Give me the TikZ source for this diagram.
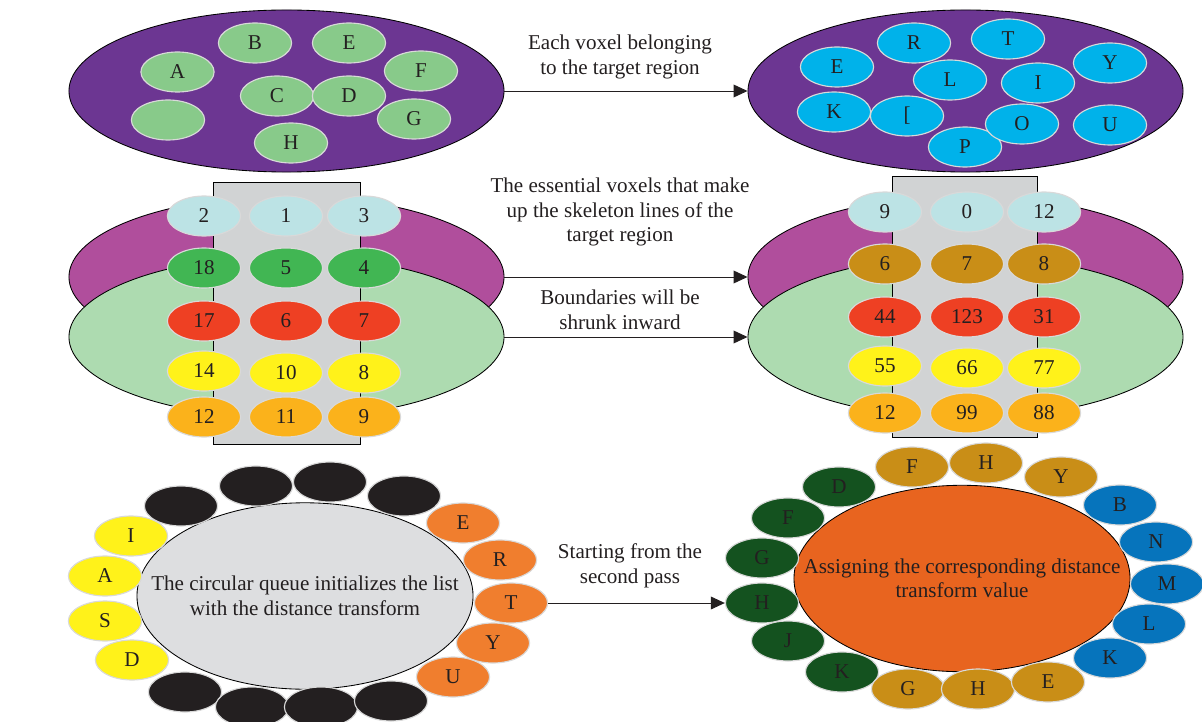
\documentclass[tikz,border=0pt]{standalone}
\usepackage{fontspec}
\setmainfont{Liberation Serif}
\usetikzlibrary{arrows.meta,shapes.geometric}
\definecolor{inkC}{HTML}{231F20}
\definecolor{regionC}{HTML}{6C3692}
\definecolor{leafC}{HTML}{88CA8A}
\definecolor{cyanC}{HTML}{00B2EA}
\definecolor{plumC}{HTML}{B04E9C}
\definecolor{mintC}{HTML}{ADDBB0}
\definecolor{barC}{HTML}{D1D3D4}
\definecolor{skyC}{HTML}{BCE3E5}
\definecolor{grassC}{HTML}{41B653}
\definecolor{fireC}{HTML}{EE4023}
\definecolor{sunC}{HTML}{FFF21A}
\definecolor{amberC}{HTML}{FBB21B}
\definecolor{goldC}{HTML}{C98E17}
\definecolor{fogC}{HTML}{DDDEE0}
\definecolor{coalC}{HTML}{231F20}
\definecolor{tangC}{HTML}{F07E2E}
\definecolor{emberC}{HTML}{E8641F}
\definecolor{pineC}{HTML}{14521F}
\definecolor{oceanC}{HTML}{0674BC}
\newcommand\voxfont{\fontsize{15}{17.4}\selectfont}

\tikzset{
  voxel/.style={ellipse,draw=black!15,line width=0.8pt,minimum width=1.83cm,minimum height=1cm,inner sep=0pt,text=inkC,font=\voxfont},
  region/.style={ellipse,draw=black,line width=0.6pt,minimum width=10.875cm,minimum height=4.05cm,inner sep=0pt},
  queue/.style={ellipse,draw=black,line width=0.6pt,minimum width=8.4cm,minimum height=4.66cm,inner sep=0pt},
  flow/.style={-{Triangle[length=3.5mm,width=3.2mm]},line width=0.7pt,inkC},
  note/.style={align=center,text=inkC,font=\voxfont}
}

\begin{document}
\begin{tikzpicture}[x=0.025cm,y=-0.025cm]
  \useasboundingbox (0,0) rectangle (1202,722);

  % top: voxels of the target region
  \node[region,fill=regionC] (tlRegion) at (286.5,91) {};
  \node[voxel,fill=leafC] (tlA) at (177.5,72) {A};
  \node[voxel,fill=leafC] (tlB) at (255,43) {B};
  \node[voxel,fill=leafC] (tlE) at (349,43) {E};
  \node[voxel,fill=leafC] (tlF) at (421,71) {F};
  \node[voxel,fill=leafC] (tlC) at (277,96) {C};
  \node[voxel,fill=leafC] (tlD) at (349,96) {D};
  \node[voxel,fill=leafC] (tlX) at (168,120) {};
  \node[voxel,fill=leafC] (tlG) at (414,119) {G};
  \node[voxel,fill=leafC] (tlH) at (291,143) {H};

  \node[region,fill=regionC] (trRegion) at (965.5,91) {};
  \node[voxel,fill=cyanC] (trE) at (837,67) {E};
  \node[voxel,fill=cyanC] (trR) at (914,43) {R};
  \node[voxel,fill=cyanC] (trT) at (1008,39) {T};
  \node[voxel,fill=cyanC] (trY) at (1110,63) {Y};
  \node[voxel,fill=cyanC] (trL) at (950,80) {L};
  \node[voxel,fill=cyanC] (trI) at (1038,83) {I};
  \node[voxel,fill=cyanC] (trK) at (834,112) {K};
  \node[voxel,fill=cyanC] (trB) at (907,116) {[};
  \node[voxel,fill=cyanC] (trP) at (965,147) {P};
  \node[voxel,fill=cyanC] (trO) at (1022,124) {O};
  \node[voxel,fill=cyanC] (trU) at (1110,125) {U};

  \draw[flow] (tlRegion.east) -- (trRegion.west);
  \node[note] (topNote) at (620,57) {Each voxel belonging\\to the target region};

  % middle: skeleton lines, left
  \node[region,fill=plumC] (mlPlum) at (286.5,277) {};
  \node[region,fill=mintC] (mlMint) at (286.5,337) {};
  \draw[fill=barC,line width=0.6pt] (213.5,182) rectangle (360,444);
  \node[voxel,fill=skyC] (ml11) at (204,216) {2};
  \node[voxel,fill=skyC] (ml12) at (286,216) {1};
  \node[voxel,fill=skyC] (ml13) at (364,216) {3};
  \node[voxel,fill=grassC] (ml21) at (204,268) {18};
  \node[voxel,fill=grassC] (ml22) at (286,268) {5};
  \node[voxel,fill=grassC] (ml23) at (364,268) {4};
  \node[voxel,fill=fireC] (ml31) at (204,321) {17};
  \node[voxel,fill=fireC] (ml32) at (286,321) {6};
  \node[voxel,fill=fireC] (ml33) at (364,321) {7};
  \node[voxel,fill=sunC] (ml41) at (204,371) {14};
  \node[voxel,fill=sunC] (ml42) at (286,373) {10};
  \node[voxel,fill=sunC] (ml43) at (364,373) {8};
  \node[voxel,fill=amberC] (ml51) at (204,417) {12};
  \node[voxel,fill=amberC] (ml52) at (286,417) {11};
  \node[voxel,fill=amberC] (ml53) at (364,417) {9};

  % middle: skeleton lines, right
  \node[region,fill=plumC] (mrPlum) at (965.5,277) {};
  \node[region,fill=mintC] (mrMint) at (965.5,337) {};
  \draw[fill=barC,line width=0.6pt] (892.5,176) rectangle (1037.5,437);
  \node[voxel,fill=skyC] (mr11) at (885,212) {9};
  \node[voxel,fill=skyC] (mr12) at (967,212) {0};
  \node[voxel,fill=skyC] (mr13) at (1044,212) {12};
  \node[voxel,fill=goldC] (mr21) at (885,264) {6};
  \node[voxel,fill=goldC] (mr22) at (967,264) {7};
  \node[voxel,fill=goldC] (mr23) at (1044,264) {8};
  \node[voxel,fill=fireC] (mr31) at (885,317) {44};
  \node[voxel,fill=fireC] (mr32) at (967,317) {123};
  \node[voxel,fill=fireC] (mr33) at (1044,317) {31};
  \node[voxel,fill=sunC] (mr41) at (885,366) {55};
  \node[voxel,fill=sunC] (mr42) at (967,368) {66};
  \node[voxel,fill=sunC] (mr43) at (1044,368) {77};
  \node[voxel,fill=amberC] (mr51) at (885,413) {12};
  \node[voxel,fill=amberC] (mr52) at (967,413) {99};
  \node[voxel,fill=amberC] (mr53) at (1044,413) {88};

  \draw[flow] (mlPlum.east) -- (mrPlum.west);
  \draw[flow] (mlMint.east) -- (mrMint.west);
  \node[note] (skelNote) at (620,212) {The essential voxels that make\\up the skeleton lines of the\\target region};
  \node[note] (shrinkNote) at (620,310) {Boundaries will be\\shrunk inward};

  % bottom: circular queue
  \node[queue,fill=fogC] (lQueue) at (305,596) {};
  \node[note] (lQueueText) at (lQueue.center) {The circular queue initializes the list\\with the distance transform};
  \node[voxel,fill=sunC] (lqI) at (131,536) {I};
  \node[voxel,fill=sunC] (lqA) at (105,576) {A};
  \node[voxel,fill=sunC] (lqS) at (105,621) {S};
  \node[voxel,fill=sunC] (lqD) at (132,660) {D};
  \node[voxel,fill=coalC] (lqK1) at (181,506) {};
  \node[voxel,fill=coalC] (lqK2) at (256,486) {};
  \node[voxel,fill=coalC] (lqK3) at (330,482) {};
  \node[voxel,fill=coalC] (lqK4) at (404,496) {};
  \node[voxel,fill=coalC] (lqK5) at (185,692) {};
  \node[voxel,fill=coalC] (lqK6) at (252,707) {};
  \node[voxel,fill=coalC] (lqK7) at (321,707) {};
  \node[voxel,fill=coalC] (lqK8) at (391,701) {};
  \node[voxel,fill=tangC] (lqE) at (463,523) {E};
  \node[voxel,fill=tangC] (lqR) at (500,560) {R};
  \node[voxel,fill=tangC] (lqT) at (511,603) {T};
  \node[voxel,fill=tangC] (lqY) at (493,643) {Y};
  \node[voxel,fill=tangC] (lqU) at (453,677) {U};

  % bottom: second pass
  \node[queue,fill=emberC] (rQueue) at (962,578.5) {};
  \node[note] (rQueueText) at (rQueue.center) {Assigning the corresponding distance\\transform value};
  \node[voxel,fill=pineC] (rqD) at (839,487) {D};
  \node[voxel,fill=pineC] (rqF) at (788,518) {F};
  \node[voxel,fill=pineC] (rqG) at (762,558) {G};
  \node[voxel,fill=pineC] (rqH) at (762,603) {H};
  \node[voxel,fill=pineC] (rqJ) at (788,641) {J};
  \node[voxel,fill=pineC] (rqK) at (842,672) {K};
  \node[voxel,fill=goldC] (rqF2) at (912,467) {F};
  \node[voxel,fill=goldC] (rqH2) at (986,463) {H};
  \node[voxel,fill=goldC] (rqY2) at (1061,477) {Y};
  \node[voxel,fill=goldC] (rqG2) at (908,689) {G};
  \node[voxel,fill=goldC] (rqH3) at (978,689) {H};
  \node[voxel,fill=goldC] (rqE2) at (1048,682) {E};
  \node[voxel,fill=oceanC] (rqB) at (1120,505) {B};
  \node[voxel,fill=oceanC] (rqN) at (1156,542) {N};
  \node[voxel,fill=oceanC] (rqM) at (1167,584) {M};
  \node[voxel,fill=oceanC] (rqL) at (1149,624) {L};
  \node[voxel,fill=oceanC] (rqK2) at (1110,658) {K};

  \draw[flow] (lqT.east) -- (rqH.west);
  \node[note] (passNote) at (630,566) {Starting from the\\second pass};
\end{tikzpicture}
\end{document}
